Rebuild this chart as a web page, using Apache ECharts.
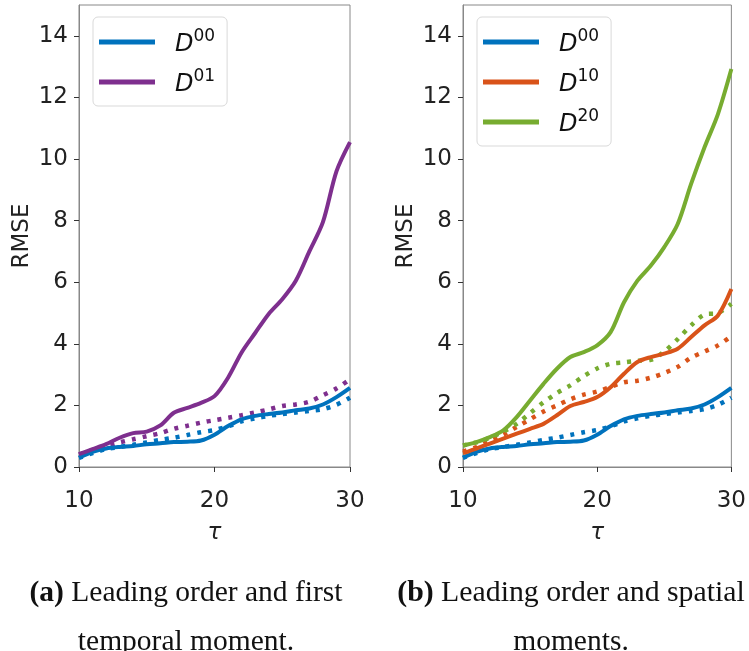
<!DOCTYPE html>
<html><head><meta charset="utf-8">
<script src="https://cdn.jsdelivr.net/npm/echarts@6/dist/echarts.min.js"></script>
<style>html,body{margin:0;padding:0;background:#fff}#c{width:749px;height:651px}</style>
</head><body><div id="c"></div>
<script>
// ---- data ----
var tau = [10,11,12,13,14,15,16,17,18,19,20,21,22,23,24,25,26,27,28,29,30];
var d00Solid = [0.30,0.49,0.60,0.65,0.68,0.74,0.77,0.81,0.82,0.86,1.05,1.33,1.55,1.66,1.72,1.77,1.84,1.90,2.03,2.27,2.57];
var d00Dot   = [0.30,0.45,0.58,0.65,0.72,0.80,0.88,0.95,1.04,1.13,1.20,1.32,1.48,1.58,1.66,1.72,1.77,1.82,1.88,2.02,2.25];
var d01Solid = [0.42,0.58,0.74,0.95,1.10,1.15,1.35,1.76,1.92,2.08,2.30,2.90,3.72,4.35,4.97,5.45,6.05,7.00,7.95,9.60,10.55];
var d01Dot   = [0.40,0.55,0.68,0.80,0.90,1.00,1.10,1.24,1.34,1.44,1.52,1.60,1.68,1.77,1.87,1.98,2.03,2.12,2.33,2.55,2.85];
var d10Solid = [0.45,0.60,0.76,0.92,1.08,1.24,1.40,1.68,1.98,2.11,2.27,2.59,3.03,3.41,3.57,3.68,3.84,4.22,4.60,4.92,5.78];
var d10Dot   = [0.50,0.65,0.85,1.05,1.30,1.55,1.80,2.00,2.20,2.35,2.45,2.60,2.75,2.80,2.90,3.05,3.25,3.55,3.75,3.95,4.25];
var d20Solid = [0.70,0.81,0.97,1.19,1.62,2.16,2.70,3.19,3.57,3.73,3.95,4.38,5.35,6.05,6.54,7.14,7.89,9.19,10.38,11.46,12.92];
var d20Dot   = [0.70,0.80,0.95,1.15,1.40,1.75,2.10,2.40,2.65,2.95,3.20,3.35,3.40,3.45,3.48,3.75,4.15,4.60,4.95,5.00,5.30];
var yTicks = [0,2,4,6,8,10,12,14];
var xTicks = [10,20,30];
var captionA = ['(a)', 'Leading order and first', 'temporal moment.'];
var captionB = ['(b)', 'Leading order and spatial', 'moments.'];

var C = {blue:'#0072BD', purple:'#7E2F8E', orange:'#D95319', green:'#77AC30'};

function pairs(ys){ return tau.map(function(t,i){ return [t, ys[i]]; }); }

function xAx(gi){
  return {
    gridIndex: gi, type:'value', min:10, max:30, interval:10,
    axisLine:{show:true, onZero:false, lineStyle:{color:'#888', width:1}},
    axisTick:{show:true, length:5, lineStyle:{color:'#333'}},
    axisLabel:{fontSize:23, color:'#222', fontFamily:'DejaVu Sans', margin:23, customValues:xTicks},
    splitLine:{show:false},
    name:'τ', nameLocation:'middle', nameGap:55,
    nameTextStyle:{fontSize:23, fontStyle:'italic', color:'#222', fontFamily:'DejaVu Sans'}
  };
}
function yAx(gi){
  return {
    gridIndex: gi, type:'value', min:0, max:15,
    axisLine:{show:true, lineStyle:{color:'#888', width:1}},
    axisTick:{show:true, length:5, lineStyle:{color:'#333'}, customValues:yTicks},
    axisLabel:{fontSize:23, color:'#222', fontFamily:'DejaVu Sans', margin:11, customValues:yTicks},
    splitLine:{show:false},
    name:'RMSE', nameLocation:'middle', nameGap:45,
    nameTextStyle:{fontSize:23, color:'#222', fontFamily:'DejaVu Sans'}
  };
}
function solid(name, gi, ys, color){
  return {name:name, type:'line', xAxisIndex:gi, yAxisIndex:gi, data:pairs(ys), smooth:0.3,
    showSymbol:false, symbol:'none', color:color, lineStyle:{color:color, width:4}, z:3, silent:true};
}
function dotted(name, gi, ys, color){
  return {name:name, type:'line', xAxisIndex:gi, yAxisIndex:gi, data:pairs(ys), smooth:0.3,
    showSymbol:false, symbol:'none', color:color, lineStyle:{color:color, width:4.5, type:[4,7]}, z:2, silent:true};
}
function legend(names, left){
  return {
    data:names, orient:'vertical', left:left, top:17, selectedMode:false,
    icon:'rect', itemWidth:56, itemHeight:5, itemGap:11,
    padding:[11,12,9,6],
    borderColor:'#d9d9d9', borderWidth:1, borderRadius:5, backgroundColor:'rgba(255,255,255,0.85)',
    formatter:function(n){ return '{d|D}{s|' + n.slice(1) + '}'; },
    textStyle:{padding:[0,0,0,15], rich:{
      d:{fontSize:24, fontStyle:'italic', fontFamily:'DejaVu Sans', color:'#111', verticalAlign:'bottom', lineHeight:30},
      s:{fontSize:17, fontFamily:'DejaVu Sans', color:'#111', verticalAlign:'bottom', padding:[0,0,12,0], lineHeight:17}
    }}
  };
}
function caption(cap, cx, fs1, fs2){
  var serif = 'Liberation Serif';
  return [
    {type:'text', x:cx, y:593, style:{text:'{b|' + cap[0] + '} ' + cap[1], fontSize:fs1, fontFamily:serif, fill:'#111',
      align:'center', verticalAlign:'middle',
      rich:{b:{fontSize:fs1, fontFamily:serif, fontWeight:'bold', fill:'#111'}}}},
    {type:'text', x:cx, y:642, style:{text:cap[2], fontSize:fs2, fontFamily:serif, fill:'#111',
      align:'center', verticalAlign:'middle'}}
  ];
}

var chart = echarts.init(document.getElementById('c'), null, {renderer:'canvas'});
chart.setOption({
  animation:false,
  backgroundColor:'#fff',
  grid:[
    {left:79, top:5, width:271, height:462, show:true, borderColor:'#888', borderWidth:1, backgroundColor:'transparent'},
    {left:463, top:5, width:270, height:462, show:true, borderColor:'#888', borderWidth:1, backgroundColor:'transparent'}
  ],
  xAxis:[xAx(0), xAx(1)],
  yAxis:[yAx(0), yAx(1)],
  legend:[legend(['D00','D01'], 93), legend(['D00','D10','D20'], 477)],
  series:[
    dotted('D00 pred', 0, d00Dot, C.blue),
    dotted('D01 pred', 0, d01Dot, C.purple),
    solid('D00', 0, d00Solid, C.blue),
    solid('D01', 0, d01Solid, C.purple),
    dotted('D00 pred b', 1, d00Dot, C.blue),
    dotted('D10 pred', 1, d10Dot, C.orange),
    dotted('D20 pred', 1, d20Dot, C.green),
    solid('D00', 1, d00Solid, C.blue),
    solid('D10', 1, d10Solid, C.orange),
    solid('D20', 1, d20Solid, C.green)
  ],
  graphic: caption(captionA, 186, 29.5, 29.5).concat(caption(captionB, 571, 29.8, 29.5))
});
</script></body></html>
